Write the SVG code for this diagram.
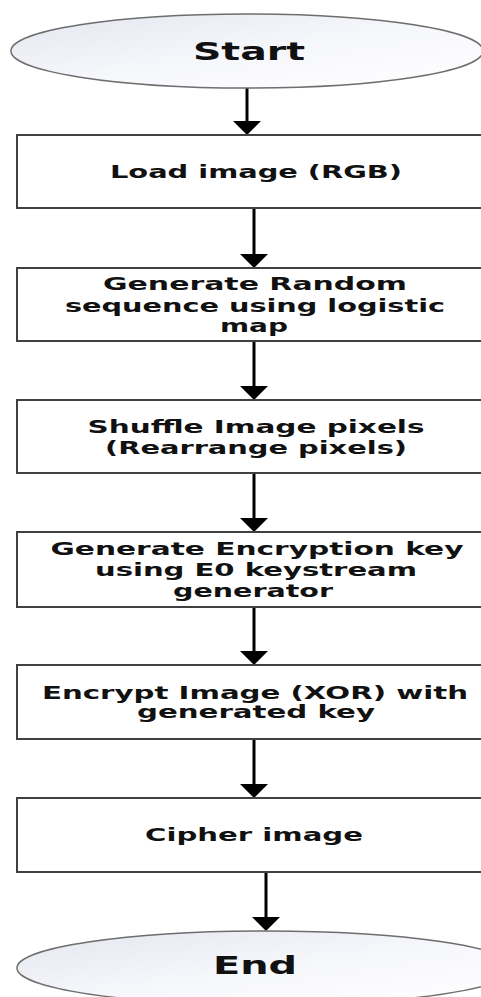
<svg xmlns="http://www.w3.org/2000/svg" width="481" height="997" viewBox="0 0 481 997">
<defs>
<linearGradient id="term" x1="0" y1="0" x2="1" y2="1">
<stop offset="0" stop-color="#e4e6ef"/>
<stop offset="0.5" stop-color="#f6f7fb"/>
<stop offset="1" stop-color="#ffffff"/>
</linearGradient>
<marker id="ah" markerUnits="userSpaceOnUse" markerWidth="14" markerHeight="28" viewBox="0 0 14 28" refX="6" refY="14" orient="auto">
<path d="M0,0 L14,14 L0,28 z" fill="#000"/>
</marker>
<style>
.term{fill:url(#term);stroke:#6e6e6e;stroke-width:1.5}
.box{fill:#fff;stroke:#404040;stroke-width:2}
.t{font-family:"DejaVu Sans",Verdana,sans-serif;font-weight:bold;font-size:18px;fill:#111;text-anchor:middle}
.tt{font-family:"DejaVu Sans",Verdana,sans-serif;font-weight:bold;font-size:24px;fill:#111;text-anchor:middle}
.c{stroke:#000;stroke-width:3;fill:none;marker-end:url(#ah)}
</style>
</defs>
<g id="connectors">
<line class="c" x1="247" y1="88" x2="247" y2="127"/>
<line class="c" x1="254" y1="209" x2="254" y2="260"/>
<line class="c" x1="254" y1="341" x2="254" y2="392"/>
<line class="c" x1="254" y1="473" x2="254" y2="524"/>
<line class="c" x1="254" y1="607" x2="254" y2="657"/>
<line class="c" x1="254" y1="739" x2="254" y2="790"/>
<line class="c" x1="266" y1="872" x2="266" y2="923"/>
</g>
<g id="start">
<ellipse class="term" cx="247" cy="51" rx="236" ry="37"/>
<text class="tt" x="249" y="60" textLength="112" lengthAdjust="spacingAndGlyphs">Start</text>
</g>
<g id="load">
<rect class="box" x="17" y="135" width="480" height="73"/>
<text class="t" x="256" y="178" textLength="292" lengthAdjust="spacingAndGlyphs">Load image (RGB)</text>
</g>
<g id="random">
<rect class="box" x="17" y="268" width="480" height="73"/>
<text class="t" x="255" y="290" textLength="304" lengthAdjust="spacingAndGlyphs">Generate Random</text>
<text class="t" x="255" y="312" textLength="380" lengthAdjust="spacingAndGlyphs">sequence using logistic</text>
<text class="t" x="254" y="332" textLength="68" lengthAdjust="spacingAndGlyphs">map</text>
</g>
<g id="shuffle">
<rect class="box" x="17" y="400" width="480" height="73"/>
<text class="t" x="256" y="433" textLength="337" lengthAdjust="spacingAndGlyphs">Shuffle Image pixels</text>
<text class="t" x="256" y="454" textLength="302" lengthAdjust="spacingAndGlyphs">(Rearrange pixels)</text>
</g>
<g id="keygen">
<rect class="box" x="17" y="532" width="480" height="75"/>
<text class="t" x="257" y="555" textLength="413" lengthAdjust="spacingAndGlyphs">Generate Encryption key</text>
<text class="t" x="256" y="576" textLength="322" lengthAdjust="spacingAndGlyphs">using E0 keystream</text>
<text class="t" x="253" y="597" textLength="160" lengthAdjust="spacingAndGlyphs">generator</text>
</g>
<g id="encrypt">
<rect class="box" x="17" y="665" width="480" height="74"/>
<text class="t" x="255" y="699" textLength="426" lengthAdjust="spacingAndGlyphs">Encrypt Image (XOR) with</text>
<text class="t" x="256" y="718" textLength="238" lengthAdjust="spacingAndGlyphs">generated key</text>
</g>
<g id="cipher">
<rect class="box" x="17" y="798" width="480" height="74"/>
<text class="t" x="254" y="841" textLength="218" lengthAdjust="spacingAndGlyphs">Cipher image</text>
</g>
<g id="end">
<ellipse class="term" cx="266" cy="968" rx="249" ry="37"/>
<text class="tt" x="255" y="974" textLength="84" lengthAdjust="spacingAndGlyphs">End</text>
</g>
</svg>
